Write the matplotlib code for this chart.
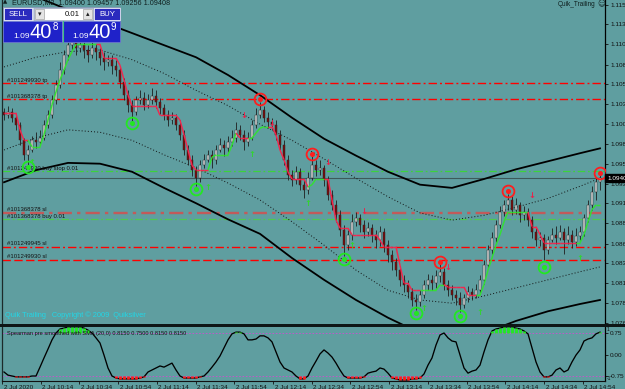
import numpy as np
import matplotlib
matplotlib.use("Agg")
import matplotlib.pyplot as plt
from matplotlib.patches import Rectangle

plt.rcParams['font.family'] = ['Liberation Sans', 'DejaVu Sans']

# ---------------- data ----------------
first_open = 1.1023
closes = [1.1019, 1.1023, 1.1016, 1.1007, 1.0988, 1.0970, 1.0976, 1.0988, 1.0986, 1.0991,
          1.1007, 1.1019, 1.1038, 1.1057, 1.1075, 1.1094, 1.1106, 1.1110, 1.1102, 1.1106,
          1.1100, 1.1094, 1.1102, 1.1098, 1.1090, 1.1085, 1.1088, 1.1080, 1.1075, 1.1060,
          1.1044, 1.1032, 1.1023, 1.1038, 1.1040, 1.1032, 1.1038, 1.1043, 1.1036, 1.1028,
          1.1019, 1.1013, 1.1016, 1.1007, 1.0995, 1.0976, 1.0964, 1.0951, 1.0941, 1.0957,
          1.0964, 1.0970, 1.0964, 1.0976, 1.0982, 1.0978, 1.0986, 1.0991, 1.1001, 1.0995,
          1.0986, 1.0991, 1.1007, 1.1019, 1.1026, 1.1016, 1.1011, 1.1007, 1.0995, 1.0982,
          1.0964, 1.0945, 1.0939, 1.0949, 1.0933, 1.0926, 1.0941, 1.0957, 1.0951, 1.0954,
          1.0939, 1.0920, 1.0908, 1.0895, 1.0877, 1.0858, 1.0871, 1.0887, 1.0892, 1.0883,
          1.0874, 1.0879, 1.0871, 1.0864, 1.0874, 1.0858, 1.0846, 1.0837, 1.0827, 1.0815,
          1.0809, 1.0800, 1.0790, 1.0788, 1.0796, 1.0809, 1.0815, 1.0811, 1.0820, 1.0825,
          1.0809, 1.0802, 1.0796, 1.0792, 1.0784, 1.0792, 1.0800, 1.0796, 1.0802, 1.0815,
          1.0833, 1.0852, 1.0867, 1.0883, 1.0899, 1.0908, 1.0914, 1.0902, 1.0908, 1.0895,
          1.0899, 1.0889, 1.0874, 1.0864, 1.0867, 1.0852, 1.0864, 1.0871, 1.0867, 1.0874,
          1.0864, 1.0871, 1.0862, 1.0869, 1.0874, 1.0892, 1.0908, 1.0924, 1.0936, 1.0941]
highs = [1.1028, 1.1031, 1.1028, 1.1019, 1.1011, 1.0991, 1.0982, 1.0993, 1.0998, 1.1001,
         1.1013, 1.1026, 1.1044, 1.1063, 1.1085, 1.1100, 1.1115, 1.1119, 1.1115, 1.1112,
         1.1110, 1.1106, 1.1110, 1.1107, 1.1102, 1.1098, 1.1094, 1.1094, 1.1088, 1.1080,
         1.1065, 1.1050, 1.1038, 1.1043, 1.1050, 1.1048, 1.1045, 1.1053, 1.1050, 1.1040,
         1.1033, 1.1026, 1.1023, 1.1021, 1.1013, 1.1001, 1.0982, 1.0970, 1.0956, 1.0964,
         1.0971, 1.0976, 1.0976, 1.0982, 1.0991, 1.0988, 1.0993, 1.1001, 1.1011, 1.1007,
         1.1001, 1.0998, 1.1013, 1.1028, 1.1036, 1.1031, 1.1023, 1.1016, 1.1013, 1.1001,
         1.0988, 1.0970, 1.0951, 1.0956, 1.0954, 1.0939, 1.0949, 1.0970, 1.0964, 1.0964,
         1.0957, 1.0944, 1.0926, 1.0914, 1.0902, 1.0883, 1.0877, 1.0897, 1.0899, 1.0897,
         1.0889, 1.0887, 1.0884, 1.0877, 1.0882, 1.0879, 1.0864, 1.0852, 1.0842, 1.0832,
         1.0821, 1.0815, 1.0805, 1.0797, 1.0802, 1.0815, 1.0822, 1.0821, 1.0827, 1.0835,
         1.0830, 1.0815, 1.0809, 1.0802, 1.0800, 1.0797, 1.0807, 1.0805, 1.0810, 1.0821,
         1.0840, 1.0858, 1.0874, 1.0889, 1.0907, 1.0914, 1.0921, 1.0919, 1.0916, 1.0912,
         1.0907, 1.0904, 1.0894, 1.0879, 1.0874, 1.0872, 1.0869, 1.0879, 1.0882, 1.0883,
         1.0879, 1.0882, 1.0877, 1.0879, 1.0882, 1.0897, 1.0914, 1.0931, 1.0941, 1.0945]
lows = [1.1013, 1.1016, 1.1011, 1.1001, 1.0982, 1.0964, 1.0957, 1.0974, 1.0978, 1.0982,
        1.0988, 1.1003, 1.1016, 1.1033, 1.1053, 1.1070, 1.1088, 1.1100, 1.1094, 1.1098,
        1.1090, 1.1085, 1.1090, 1.1088, 1.1081, 1.1075, 1.1080, 1.1070, 1.1068, 1.1053,
        1.1038, 1.1023, 1.1011, 1.1019, 1.1033, 1.1026, 1.1028, 1.1033, 1.1028, 1.1021,
        1.1013, 1.1006, 1.1008, 1.1001, 1.0988, 1.0970, 1.0957, 1.0944, 1.0931, 1.0936,
        1.0954, 1.0961, 1.0954, 1.0959, 1.0974, 1.0969, 1.0974, 1.0981, 1.0986, 1.0988,
        1.0976, 1.0981, 1.0988, 1.1003, 1.1016, 1.1011, 1.1003, 1.1001, 1.0988, 1.0976,
        1.0957, 1.0939, 1.0931, 1.0934, 1.0926, 1.0916, 1.0921, 1.0939, 1.0944, 1.0945,
        1.0931, 1.0914, 1.0902, 1.0887, 1.0869, 1.0845, 1.0852, 1.0864, 1.0882, 1.0874,
        1.0867, 1.0869, 1.0862, 1.0854, 1.0857, 1.0850, 1.0837, 1.0827, 1.0820, 1.0807,
        1.0800, 1.0792, 1.0783, 1.0778, 1.0783, 1.0792, 1.0802, 1.0802, 1.0805, 1.0812,
        1.0802, 1.0795, 1.0790, 1.0784, 1.0775, 1.0780, 1.0788, 1.0790, 1.0792, 1.0797,
        1.0810, 1.0830, 1.0847, 1.0862, 1.0879, 1.0894, 1.0902, 1.0895, 1.0897, 1.0887,
        1.0889, 1.0882, 1.0867, 1.0857, 1.0857, 1.0840, 1.0847, 1.0862, 1.0859, 1.0864,
        1.0847, 1.0859, 1.0854, 1.0857, 1.0864, 1.0869, 1.0887, 1.0902, 1.0914, 1.0926]

# trailing stop line (value, direction: 1 = long/green, -1 = short/red)
trail = [1.1022, 1.1022, 1.1022, 1.1022, 1.1001, 1.0988, 1.0988, 1.0980, 1.0980, 1.0980,
         1.0995, 1.1013, 1.1032, 1.1048, 1.1063, 1.1075, 1.1088, 1.1098, 1.1107, 1.1107,
         1.1107, 1.1107, 1.1107, 1.1107, 1.1107, 1.1090, 1.1090, 1.1090, 1.1090, 1.1081,
         1.1063, 1.1044, 1.1031, 1.1031, 1.1031, 1.1031, 1.1031, 1.1031, 1.1031, 1.1019,
         1.1019, 1.1019, 1.1019, 1.1019, 1.1013, 1.0995, 1.0976, 1.0957, 1.0951, 1.0951,
         1.0951, 1.0951, 1.0967, 1.0970, 1.0970, 1.0970, 1.0970, 1.0982, 1.0997, 1.0991,
         1.0991, 1.0991, 1.0991, 1.0997, 1.1003, 1.1005, 1.1005, 1.1005, 1.0995, 1.0976,
         1.0964, 1.0949, 1.0940, 1.0940, 1.0940, 1.0940, 1.0930, 1.0933, 1.0940, 1.0940,
         1.0940, 1.0940, 1.0914, 1.0889, 1.0879, 1.0879, 1.0879, 1.0871, 1.0871, 1.0871,
         1.0871, 1.0871, 1.0871, 1.0871, 1.0864, 1.0856, 1.0856, 1.0856, 1.0856, 1.0833,
         1.0811, 1.0811, 1.0802, 1.0802, 1.0802, 1.0802, 1.0802, 1.0802, 1.0802, 1.0809,
         1.0809, 1.0806, 1.0806, 1.0806, 1.0806, 1.0806, 1.0796, 1.0796, 1.0796, 1.0796,
         1.0809, 1.0827, 1.0842, 1.0858, 1.0871, 1.0887, 1.0899, 1.0899, 1.0899, 1.0899,
         1.0899, 1.0899, 1.0881, 1.0881, 1.0871, 1.0861, 1.0861, 1.0861, 1.0861, 1.0861,
         1.0861, 1.0861, 1.0861, 1.0861, 1.0861, 1.0871, 1.0887, 1.0902, 1.0908, 1.0908]
trail_dir = [-1, -1, -1, -1, -1, -1, -1, 1, 1, 1,
             1, 1, 1, 1, 1, 1, 1, 1, 1, 1,
             1, 1, 1, 1, -1, -1, -1, -1, -1, -1,
             -1, -1, -1, -1, -1, -1, -1, -1, -1, -1,
             -1, -1, -1, -1, -1, -1, -1, -1, -1, -1,
             -1, -1, 1, 1, 1, 1, 1, 1, 1, -1,
             -1, -1, 1, 1, 1, 1, 1, -1, -1, -1,
             -1, -1, -1, -1, -1, -1, -1, 1, 1, 1,
             1, -1, -1, -1, -1, -1, -1, -1, -1, -1,
             -1, -1, -1, -1, -1, -1, -1, -1, -1, -1,
             -1, -1, -1, -1, -1, 1, 1, 1, 1, 1,
             1, -1, -1, -1, -1, -1, -1, -1, -1, 1,
             1, 1, 1, 1, 1, 1, 1, 1, 1, 1,
             1, 1, -1, -1, -1, -1, -1, -1, -1, -1,
             -1, -1, -1, -1, 1, 1, 1, 1, 1, 1]

# envelope bands, sampled at these bar numbers
band_idx = [0, 8, 16, 24, 32, 40, 48, 56, 64, 72, 80, 88, 96, 104, 112, 120, 128, 136, 144, 149]
upper_outer = [1.1180, 1.1166, 1.1150, 1.1136, 1.1121, 1.1106, 1.1091, 1.1069, 1.1044, 1.1016,
               1.0990, 1.0969, 1.0949, 1.0933, 1.0929, 1.0940, 1.0952, 1.0962, 1.0972, 1.0978]
upper_inner = [1.1079, 1.1091, 1.1098, 1.1100, 1.1088, 1.1071, 1.1050, 1.1031, 1.1008, 1.0988,
               1.0965, 1.0941, 1.0918, 1.0898, 1.0889, 1.0895, 1.0905, 1.0916, 1.0931, 1.0941]
lower_inner = [1.0976, 1.0991, 1.1001, 1.0998, 1.0988, 1.0970, 1.0954, 1.0935, 1.0914, 1.0887,
               1.0858, 1.0827, 1.0802, 1.0790, 1.0786, 1.0795, 1.0805, 1.0815, 1.0825, 1.0831]
lower_outer = [1.0936, 1.0951, 1.0960, 1.0959, 1.0949, 1.0929, 1.0910, 1.0890, 1.0872, 1.0842,
               1.0815, 1.0790, 1.0768, 1.0749, 1.0740, 1.0749, 1.0764, 1.0776, 1.0785, 1.0790]

# signals
sell_sig_idx = [64, 77, 109, 126, 149]
sell_sig_px = [1.1039, 1.0971, 1.0837, 1.0925, 1.0947]
buy_sig_idx = [6, 32, 48, 85, 103, 114, 135]
buy_sig_px = [1.0955, 1.1009, 1.0928, 1.0841, 1.0774, 1.0770, 1.0831]
down_arrow_idx = [60, 67, 81, 90, 111, 132]
down_arrow_px = [1.1019, 1.1009, 1.0961, 1.0900, 1.0830, 1.0920]
up_arrow_idx = [7, 51, 62, 76, 87, 105, 119, 144]
up_arrow_px = [1.0961, 1.0930, 1.0970, 1.0910, 1.0858, 1.0780, 1.0775, 1.0841]

# order lines
order_prices = [1.1059, 1.1039, 1.0950, 1.0898, 1.0890, 1.0856, 1.0840]
order_labels = ["#101249930 tp", "#101368378 tp", "#101249930 buy stop 0.01",
                "#101368378 sl", "#101368378 buy 0.01", "#101249945 sl", "#101249930 sl"]
bid = 1.09408

price_ticks = [1.1156, 1.1132, 1.1107, 1.1082, 1.1058, 1.1033, 1.1008, 1.0984, 1.0959,
               1.0934, 1.0910, 1.0885, 1.0860, 1.0836, 1.0811, 1.0786, 1.0762]

spearman = [-0.61, -0.72, -0.75, -0.78, -0.78, -0.78, -0.78, -0.75, -0.75, -0.44,
            -0.12, 0.19, 0.51, 0.75, 0.89, 0.92, 0.96, 0.96, 0.96, 0.96,
            0.92, 0.85, 0.75, 0.58, 0.40, -0.02, -0.47, -0.75, -0.82, -0.85,
            -0.85, -0.85, -0.85, -0.85, -0.82, -0.78, -0.61, -0.54, -0.47, -0.40,
            -0.44, -0.37, -0.30, -0.54, -0.75, -0.82, -0.82, -0.82, -0.82, -0.78,
            -0.75, -0.61, -0.44, -0.26, -0.05, 0.23, 0.51, 0.72, 0.78, 0.78,
            0.72, 0.51, 0.51, 0.54, 0.65, 0.65, 0.58, 0.44, 0.09, -0.26,
            -0.47, -0.54, -0.61, -0.75, -0.85, -0.85, -0.75, -0.47, -0.23, 0.02,
            0.16, 0.05, -0.09, -0.30, -0.54, -0.75, -0.82, -0.82, -0.82, -0.82,
            -0.78, -0.65, -0.61, -0.58, -0.47, -0.51, -0.65, -0.82, -0.85, -0.89,
            -0.89, -0.89, -0.85, -0.85, -0.82, -0.68, -0.37, -0.12, 0.33, 0.68,
            0.75, 0.58, 0.47, 0.44, -0.02, -0.47, -0.65, -0.58, -0.54, -0.37,
            0.09, 0.51, 0.82, 0.89, 0.92, 0.96, 0.96, 0.96, 0.92, 0.89,
            0.82, 0.72, 0.23, -0.26, -0.61, -0.78, -0.78, -0.72, -0.54, -0.47,
            -0.61, -0.54, -0.26, -0.02, 0.16, 0.47, 0.54, 0.58, 0.72, 0.78]
spear_levels = [0.75, -0.75]
time_labels = ["2 Jul 2020", "2 Jul 10:14", "2 Jul 10:34", "2 Jul 10:54", "2 Jul 11:14",
               "2 Jul 11:34", "2 Jul 11:54", "2 Jul 12:14", "2 Jul 12:34", "2 Jul 12:54",
               "2 Jul 13:14", "2 Jul 13:34", "2 Jul 13:54", "2 Jul 14:14", "2 Jul 14:34",
               "2 Jul 14:54"]

# ---------------- styling ----------------
BG = '#5F9EA0'
W, H = 625, 389
fig = plt.figure(figsize=(6.25, 3.89), dpi=100)
fig.patch.set_facecolor(BG)

ax = fig.add_axes([2 / W, 1 - 324 / H, 603 / W, 324 / H])
ax2 = fig.add_axes([2 / W, 1 - 381 / H, 603 / W, 54 / H])
for a in (ax, ax2):
    a.set_facecolor(BG)
    a.set_xlim(-0.5, 150.25)
    for s in ('top', 'bottom'):
        a.spines[s].set_visible(False)
    a.spines['left'].set_color('#1c2a2a')
    a.spines['left'].set_linewidth(0.9)
    a.spines['right'].set_color('black')
    a.spines['right'].set_linewidth(0.9)
    a.yaxis.tick_right()
    a.tick_params(axis='y', direction='out', length=2.5, width=0.6, pad=1.2,
                  labelsize=4.6, colors='#111111')
    a.set_xticks([])

ax.set_ylim(1.07602, 1.1162)
ax.set_yticks(price_ticks)
ax.set_yticklabels([f"{v:.4f}" for v in price_ticks])

n = len(closes)
idx = np.arange(n)
opens = [first_open] + closes[:-1]

# envelopes
ax.plot(band_idx, upper_outer, color='black', lw=1.3, zorder=2)
ax.plot(band_idx, lower_outer, color='black', lw=1.3, zorder=2)
ax.plot(band_idx, upper_inner, color='#111111', lw=0.7, ls=(0, (1, 2.2)), zorder=2)
ax.plot(band_idx, lower_inner, color='#111111', lw=0.7, ls=(0, (1, 2.2)), zorder=2)

# order lines
ls_dd = (0, (6, 2.2, 1.4, 2.2))
order_styles = [
    dict(color='#FF0000', lw=1.0, ls=ls_dd),
    dict(color='#FF0000', lw=1.0, ls=ls_dd),
    dict(color='#3CD23C', lw=0.9, ls=ls_dd),
    dict(color='#C25A5A', lw=1.7, ls=ls_dd),
    dict(color='#50C850', lw=0.9, ls=ls_dd),
    dict(color='#FF0000', lw=1.0, ls=ls_dd),
    dict(color='#FF0000', lw=1.0, ls=(0, (6, 2.5))),
]
for p, lab, st in zip(order_prices, order_labels, order_styles):
    ax.axhline(p, zorder=1.5, **st)
    ax.annotate(lab, xy=(0, p), xycoords=('axes fraction', 'data'), xytext=(3.5, 0.3),
                textcoords='offset points', fontsize=4.3, color='#141414', va='bottom',
                ha='left', zorder=6)
ax.axhline(bid, color='#3E5A5A', lw=0.8, zorder=1.5)

# candles
for i in idx:
    o, c, h, l = opens[i], closes[i], highs[i], lows[i]
    ax.vlines(i, l, h, color='#1E1E1E', lw=0.6, zorder=3)
    up = c >= o
    body_lo, body_h = min(o, c), max(abs(c - o), 0.00004)
    ax.add_patch(Rectangle((i - 0.32, body_lo), 0.64, body_h,
                           facecolor='#DCDCDC' if up else '#7A0A0A',
                           edgecolor='#2A2A2A', lw=0.35, zorder=4))

# trailing line
for i in range(1, n):
    col = '#33E033' if trail_dir[i] > 0 else '#F0284E'
    ax.plot([i - 1, i], [trail[i - 1], trail[i]], color=col, lw=1.05, zorder=5,
            solid_capstyle='butt')

# signals
ax.plot(sell_sig_idx, sell_sig_px, 'o', ms=8.5, mfc='none', mec='#FF1E1E', mew=1.3, zorder=7)
ax.plot(sell_sig_idx, sell_sig_px, 'o', ms=2.6, mfc='#FF1E1E', mec='#FF1E1E', zorder=7)
ax.plot(buy_sig_idx, buy_sig_px, 'o', ms=8.5, mfc='none', mec='#22E822', mew=1.3, zorder=7)
ax.plot(buy_sig_idx, buy_sig_px, 'o', ms=2.6, mfc='#22E822', mec='#22E822', zorder=7)
for i, p in zip(down_arrow_idx, down_arrow_px):
    ax.text(i, p, '↓', color='#E8244C', fontsize=6, ha='center', va='center',
            family='DejaVu Sans', fontweight='bold', zorder=7)
for i, p in zip(up_arrow_idx, up_arrow_px):
    ax.text(i, p, '↑', color='#34D234', fontsize=6, ha='center', va='center',
            family='DejaVu Sans', fontweight='bold', zorder=7)

# bid label
ax.annotate(f"{bid:.5f}", xy=(1, bid), xycoords=('axes fraction', 'data'),
            xytext=(1.5, 0), textcoords='offset points', fontsize=4.6, color='white',
            va='center', ha='left', annotation_clip=False, zorder=9,
            bbox=dict(boxstyle='square,pad=0.25', fc='black', ec='black'))

# ---------------- indicator sub-window ----------------
ax2.set_ylim(-0.924, 0.959)
ax2.set_yticks([0.75, 0.0, -0.75])
ax2.set_yticklabels(['0.75', '0.00', '-0.75'])
for lv in spear_levels:
    ax2.axhline(lv, color='#D04ED0', lw=0.6, ls=(0, (2, 2)), zorder=1)
sp = np.array(spearman)
ax2.plot(idx, sp, color='black', lw=0.95, zorder=2)
hi = sp > spear_levels[0]
lo = sp < spear_levels[1]
ax2.vlines(idx[hi], spear_levels[0], sp[hi], color='#22E822', lw=2.0, zorder=3)
ax2.vlines(idx[lo], spear_levels[1], sp[lo], color='#FF1A1A', lw=2.0, zorder=3)
ax2.text(0.008, 0.93, "Spearman pre smoothed with SMA (20,0) 0.8150 0.7500 0.8150 0.8150",
         transform=ax2.transAxes, fontsize=4.1, color='#111111', va='top', ha='left')
ax2.text(1.003, 1.0, "1", transform=ax2.transAxes, fontsize=3.6, color='#111111',
         va='top', ha='left')
ax2.text(1.003, 0.0, "-1", transform=ax2.transAxes, fontsize=3.6, color='#111111',
         va='bottom', ha='left')
ax2.spines['bottom'].set_visible(True)
ax2.spines['bottom'].set_color('#111111')
ax2.spines['bottom'].set_linewidth(0.8)
tpos = -0.5 + 9.68 * np.arange(len(time_labels))
ax2.set_xticks(tpos)
ax2.set_xticklabels([])
ax2.tick_params(axis='x', direction='out', length=2.5, width=0.6, colors='#111111')
for x, lab in zip(tpos, time_labels):
    ax2.text(x + 0.4, -0.08, lab, transform=ax2.get_xaxis_transform(), fontsize=4.6,
             color='#111111', va='top', ha='left', clip_on=False)

# ---------------- overlay: terminal widgets ----------------
ov = fig.add_axes([0, 0, 1, 1])
ov.set_xlim(0, W)
ov.set_ylim(H, 0)
ov.axis('off')
ov.patch.set_alpha(0)
ov.set_zorder(10)

ov.add_patch(Rectangle((0, 324), W, 2.6, fc='#0E1616', ec='none'))
ov.text(3, 3.6, "▲", fontsize=4, color='#102020', va='baseline', family='DejaVu Sans')
ov.text(12, 3.6, "EURUSD,M2  1.09400 1.09457 1.09256 1.09408", fontsize=5.2,
        color='#102020', va='baseline')
ov.text(596, 4, "Quik_Trailing", fontsize=4.7, color='#102020', va='center', ha='right')
ov.text(601.5, 4, "☺", fontsize=5.5, color='#102020', va='center', ha='center',
        family='DejaVu Sans')
ov.text(5, 315, "Quik Trailing   Copyright © 2009  Quiksilver", fontsize=5.3,
        color='#22D6E6', va='center', ha='left')

# trading panel
ov.add_patch(Rectangle((3, 7), 117, 35, fc='#C9D2E4', ec='#8090B0', lw=0.5))
ov.add_patch(Rectangle((4, 8), 28, 12, fc='#2B2BBE', ec='white', lw=0.5))
ov.text(18, 14.2, "SELL", fontsize=5.6, color='white', ha='center', va='center')
ov.add_patch(Rectangle((34, 8), 59, 12, fc='white', ec='#8090B0', lw=0.4))
ov.add_patch(Rectangle((35, 9), 8.5, 10, fc='#E4E4E4', ec='#909090', lw=0.4))
ov.add_patch(Rectangle((83, 9), 8.5, 10, fc='#E4E4E4', ec='#909090', lw=0.4))
ov.text(39.3, 14, "▾", fontsize=5, color='#202020', ha='center', va='center', family='DejaVu Sans')
ov.text(87.3, 14, "▴", fontsize=5, color='#202020', ha='center', va='center', family='DejaVu Sans')
ov.text(79.5, 14.2, "0.01", fontsize=5.6, color='#101010', ha='right', va='center')
ov.add_patch(Rectangle((94, 8), 26, 12, fc='#2B2BBE', ec='white', lw=0.5))
ov.text(107, 14.2, "BUY", fontsize=5.6, color='white', ha='center', va='center')
ov.add_patch(Rectangle((3, 21), 59, 21, fc='#1F22C9', ec='#6F7FD0', lw=0.4))
ov.add_patch(Rectangle((63, 21), 57, 21, fc='#1F22C9', ec='#6F7FD0', lw=0.4))
ov.plot([62.5, 62.5], [21, 42], color='#3FBF7F', lw=0.8)
ov.text(13, 37.5, "1.09", fontsize=6.0, color='white', ha='left', va='baseline')
ov.text(29.5, 37.5, "40", fontsize=14.5, color='white', ha='left', va='baseline')
ov.text(52.5, 29.5, "8", fontsize=7, color='white', ha='left', va='baseline')
ov.text(72.5, 37.5, "1.09", fontsize=6.0, color='white', ha='left', va='baseline')
ov.text(88.5, 37.5, "40", fontsize=14.5, color='white', ha='left', va='baseline')
ov.text(110.5, 29.5, "9", fontsize=7, color='white', ha='left', va='baseline')

fig.savefig("out.png", dpi=100, facecolor=BG)
